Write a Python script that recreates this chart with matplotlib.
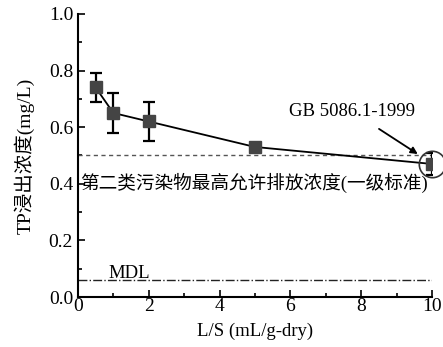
import matplotlib
matplotlib.use('Agg')
import matplotlib.pyplot as plt
from matplotlib.ticker import MultipleLocator

ls_ratio = [0.5, 1, 2, 5, 10]
tp_conc = [0.74, 0.65, 0.62, 0.53, 0.47]
tp_err = [0.05, 0.07, 0.07, 0.01, 0.04]
standard_level = 0.5
mdl_level = 0.06

plt.rcParams['font.family'] = ['Liberation Serif', 'Noto Sans CJK SC']
plt.rcParams['axes.unicode_minus'] = False

fig = plt.figure(figsize=(4.43, 3.47), dpi=100)
ax = fig.add_axes([0.176, 0.144, 0.799, 0.816])

ax.axhline(standard_level, color='#555555', ls=(0, (3, 2.5)), lw=1.0)
ax.axhline(mdl_level, color='#222222', ls='-.', lw=1.0)

ax.errorbar(ls_ratio, tp_conc, yerr=tp_err, color='black', lw=1.3,
            marker='s', ms=8, mfc='#444444', mec='#444444',
            ecolor='black', elinewidth=1.6, capsize=4, capthick=1.6, zorder=3)
ax.plot(ls_ratio[-1], tp_conc[-1], 'o', ms=19, mfc='none', mec='#333333',
        mew=1.2, clip_on=False, zorder=4)

ax.annotate('GB 5086.1-1999', xy=(9.6, 0.505), xytext=(7.75, 0.655),
            ha='center', va='center', fontsize=13.5,
            arrowprops=dict(arrowstyle='-|>', color='black', lw=1.3,
                            mutation_scale=10, shrinkA=8, shrinkB=0))
ax.text(0.05, 0.402, '第二类污染物最高允许排放浓度(一级标准)', fontsize=13.4,
        va='center', ha='left')
ax.text(0.85, 0.053, 'MDL', fontsize=13.5, va='bottom', ha='left')

ax.set_xlim(0, 10)
ax.set_ylim(0, 1.0)
ax.xaxis.set_major_locator(MultipleLocator(2))
ax.xaxis.set_minor_locator(MultipleLocator(1))
ax.yaxis.set_major_locator(MultipleLocator(0.2))
ax.yaxis.set_minor_locator(MultipleLocator(0.1))
ax.yaxis.set_major_formatter(matplotlib.ticker.FormatStrFormatter('%.1f'))
ax.tick_params(which='both', direction='in', labelsize=14, width=1.2)
ax.tick_params(which='major', length=5)
ax.tick_params(which='minor', length=3)
ax.tick_params(axis='x', pad=1)
for side in ['top', 'right']:
    ax.spines[side].set_visible(False)
for side in ['left', 'bottom']:
    ax.spines[side].set_linewidth(1.5)

ax.set_xlabel('L/S (mL/g-dry)', fontsize=13.5, labelpad=5)
ax.set_ylabel('TP浸出浓度(mg/L)', fontsize=14, labelpad=10)

fig.savefig('out.png', dpi=100)
